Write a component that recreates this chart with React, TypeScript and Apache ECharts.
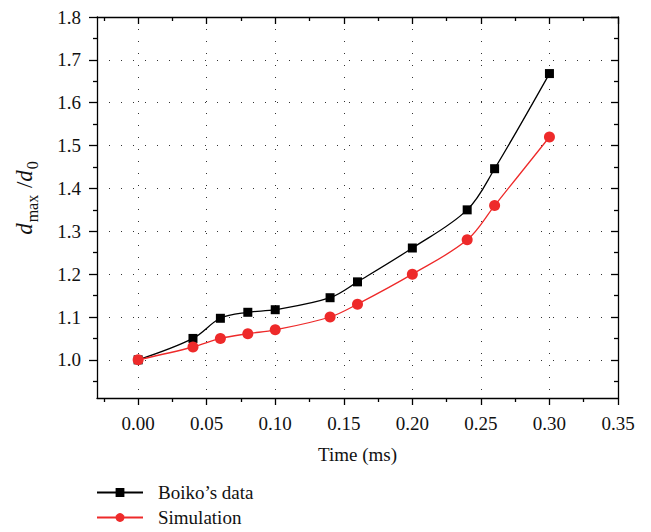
import React, { useEffect, useRef } from "react";
import * as echarts from "echarts";

const timeMs = [0, 0.04, 0.06, 0.08, 0.1, 0.14, 0.16, 0.2, 0.24, 0.26, 0.3];
const boikoData = [1.0, 1.05, 1.097, 1.111, 1.117, 1.145, 1.182, 1.261, 1.35, 1.446, 1.668];
const simulation = [1.0, 1.03, 1.05, 1.061, 1.07, 1.1, 1.13, 1.2, 1.28, 1.36, 1.52];
const xMajorTicks = [0, 0.05, 0.1, 0.15, 0.2, 0.25, 0.3, 0.35];
const xMinorTicks = [-0.025, 0.025, 0.075, 0.125, 0.175, 0.225, 0.275, 0.325];
const yMajorTicks = [1.0, 1.1, 1.2, 1.3, 1.4, 1.5, 1.6, 1.7, 1.8];
const yMinorTicks = [0.95, 1.05, 1.15, 1.25, 1.35, 1.45, 1.55, 1.65, 1.75];
const seriesNames = ["Boiko\u2019s data", "Simulation"];

const FONT = "Liberation Serif";
const X_MIN = -0.03;
const X_MAX = 0.35;
const Y_MIN = 0.911;
const Y_MAX = 1.8;

export default function App() {
  const ref = useRef<HTMLDivElement>(null);
  useEffect(() => {
    document.body.style.margin = "0";
    const chart = echarts.init(ref.current!, null, { renderer: "svg" });
    const axisLine = { show: true, onZero: false, lineStyle: { color: "#000", width: 1.3 } };
    const noLine = { show: false, onZero: false };
    const dotted = { show: true, lineStyle: { color: "#333", width: 1, type: [1, 11] as any } };
    const mkX = (position: string, values: number[], len: number, inside: boolean, labels: boolean, split: boolean, line: boolean) => ({
      type: "value",
      position,
      min: X_MIN,
      max: X_MAX,
      axisLine: line ? axisLine : noLine,
      axisTick: { show: true, customValues: values, length: len, inside, lineStyle: { color: "#000", width: 1.3 } },
      axisLabel: labels
        ? { show: true, customValues: values, formatter: (v: number) => v.toFixed(2), fontFamily: FONT, fontSize: 19, color: "#111", margin: 16 }
        : { show: false },
      splitLine: split ? dotted : { show: false },
    });
    const mkY = (position: string, values: number[], len: number, inside: boolean, labels: boolean, split: boolean, line: boolean) => ({
      type: "value",
      position,
      min: Y_MIN,
      max: Y_MAX,
      axisLine: line ? axisLine : noLine,
      axisTick: { show: true, customValues: values, length: len, inside, lineStyle: { color: "#000", width: 1.3 } },
      axisLabel: labels
        ? { show: true, customValues: values, formatter: (v: number) => v.toFixed(1), fontFamily: FONT, fontSize: 19, color: "#111", margin: 16 }
        : { show: false },
      splitLine: split ? dotted : { show: false },
    });
    const xAxes: any[] = [
      {
        ...mkX("bottom", xMajorTicks, 7, false, true, true, true),
        name: "Time (ms)",
        nameLocation: "middle",
        nameGap: 47,
        nameTextStyle: { fontFamily: FONT, fontSize: 19, color: "#111" },
      },
      mkX("bottom", xMinorTicks, 4, false, false, false, false),
      mkX("top", xMajorTicks, 7, true, false, false, true),
      mkX("top", xMinorTicks, 4, true, false, false, false),
    ];
    const yAxes: any[] = [
      {
        ...mkY("left", yMajorTicks, 8, false, true, true, true),
        name: "{i|d}{s|max}{n| /}{i|d}{s|0}",
        nameLocation: "middle",
        nameGap: 61,
        nameRotate: 90,
        nameTextStyle: {
          fontFamily: FONT,
          color: "#111",
          padding: [0, 0, 0, 20],
          rich: {
            i: { fontFamily: FONT, fontStyle: "italic", fontSize: 23, color: "#111", verticalAlign: "bottom", lineHeight: 26 },
            n: { fontFamily: FONT, fontSize: 23, color: "#111", verticalAlign: "bottom", lineHeight: 26 },
            s: { fontFamily: FONT, fontSize: 16, color: "#111", verticalAlign: "bottom", lineHeight: 15, padding: [0, 1, -4, 1] },
          },
        },
      },
      mkY("left", yMinorTicks, 4, false, false, false, false),
      mkY("right", yMajorTicks, 7, true, false, false, true),
      mkY("right", yMinorTicks, 4, true, false, false, false),
    ];
    const mkData = (ys: number[]) => timeMs.map((t, i) => [t, ys[i]]);
    chart.setOption({
      animation: false,
      backgroundColor: "#fff",
      grid: { left: 97, top: 17, right: 33, bottom: 134, outerBoundsMode: "none" },
      xAxis: xAxes,
      yAxis: yAxes,
      legend: {
        orient: "vertical",
        left: 96,
        top: 482,
        height: 50,
        padding: 0,
        itemWidth: 46,
        itemHeight: 11,
        itemGap: 4,
        textStyle: { fontFamily: FONT, fontSize: 19, color: "#111", lineHeight: 21, padding: [0, 0, 0, 10] },
        data: seriesNames,
      },
      series: [
        {
          name: seriesNames[0],
          type: "line",
          xAxisIndex: 0,
          yAxisIndex: 0,
          data: mkData(boikoData),
          smooth: 0.35,
          symbol: "rect",
          symbolSize: 9,
          lineStyle: { color: "#000", width: 1.3 },
          itemStyle: { color: "#000" },
          z: 3,
        },
        {
          name: seriesNames[1],
          type: "line",
          xAxisIndex: 0,
          yAxisIndex: 0,
          data: mkData(simulation),
          smooth: 0.35,
          symbol: "circle",
          symbolSize: 11,
          lineStyle: { color: "#ee2a2a", width: 1.3 },
          itemStyle: { color: "#ee2a2a" },
          z: 4,
        },
      ],
    });
    return () => chart.dispose();
  }, []);
  return <div ref={ref} style={{ width: 651, height: 532 }} />;
}
